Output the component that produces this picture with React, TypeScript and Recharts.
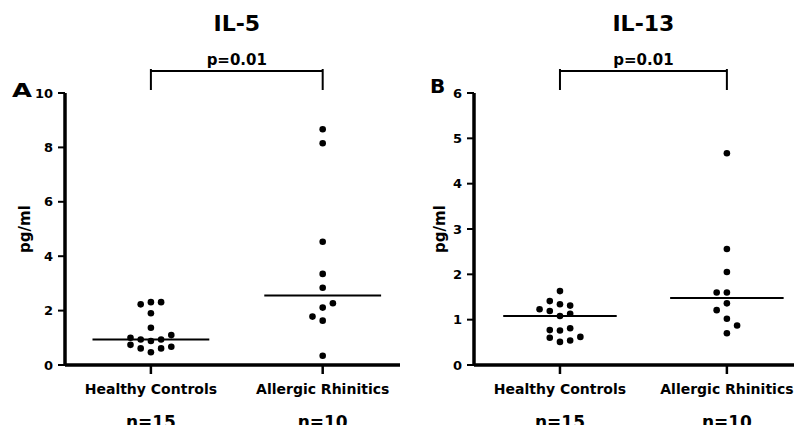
import { ReferenceLine, Scatter, ScatterChart, XAxis, YAxis } from "recharts";

const CATEGORIES = ["Healthy Controls", "Allergic Rhinitics"];
const TITLES = ["IL-5", "IL-13"];
const P_LABELS = ["p=0.01", "p=0.01"];
const PANEL_LETTERS = ["A", "B"];
const Y_LABEL = "pg/ml";

// pg/ml. Order inside each array drives the swarm
// layout (first come, first placed), so it is not sorted.
const IL5_HEALTHY = [2.31, 2.23, 2.31, 1.9, 1.37, 0.88, 0.94, 0.94, 1.0, 1.1, 0.47, 0.61, 0.61, 0.74, 0.67];
const IL5_ALLERGIC = [8.67, 8.15, 4.53, 3.35, 2.84, 1.63, 1.78, 2.11, 2.27, 0.34];
const IL13_HEALTHY = [1.63, 1.34, 1.08, 0.76, 0.51, 1.41, 1.13, 1.19, 0.81, 0.77, 0.54, 0.6, 1.23, 0.62, 1.31];
const IL13_ALLERGIC = [4.67, 2.56, 2.05, 1.6, 1.6, 1.36, 1.02, 0.87, 1.21, 0.7];

const IL5_TICKS = [0, 2, 4, 6, 8, 10];
const IL13_TICKS = [0, 1, 2, 3, 4, 5, 6];

const FONT = '"DejaVu Sans", "Liberation Sans", sans-serif';
const INK = "#000";
const CHART_H = 433;
const PLOT_TOP = 93;
const PLOT_BOTTOM = 365;
const PLOT_H = PLOT_BOTTOM - PLOT_TOP;
const DOT_R = 3.3;
const SLOT_PX = 10.2; // horizontal step between swarm columns
const MIN_GAP_PX = 6.95; // dots closer than this in one column collide
const MEDIAN_HALF = 0.34; // half-width of the median bar, x units

type Panel = {
  left: number;
  width: number;
  axisW: number;
  xMin: number;
  xMax: number;
  yMax: number;
  ticks: number[];
  groups: number[][];
  title: string;
  p: string;
  letter: string;
  letterX: number;
  letterY: number;
  letterW?: number;
  labelOffset: number;
};

const PANELS: Panel[] = [
  {
    left: 0,
    width: 400,
    axisW: 65,
    xMin: 0.5,
    xMax: 2.45,
    yMax: 10,
    ticks: IL5_TICKS,
    groups: [IL5_HEALTHY, IL5_ALLERGIC],
    title: TITLES[0],
    p: P_LABELS[0],
    letter: PANEL_LETTERS[0],
    letterX: 12,
    letterY: 97,
    letterW: 20,
    labelOffset: 25,
  },
  {
    left: 400,
    width: 402,
    axisW: 74,
    xMin: 0.485,
    xMax: 2.45,
    yMax: 6,
    ticks: IL13_TICKS,
    groups: [IL13_HEALTHY, IL13_ALLERGIC],
    title: TITLES[1],
    p: P_LABELS[1],
    letter: PANEL_LETTERS[1],
    letterX: 430,
    letterY: 93,
    labelOffset: 40,
  },
];

// Column index for every value: 0 in the middle, then -k/+k, picking the
// emptier column first (ties go left).
function swarmSlots(values: number[], pxPerUnit: number): number[] {
  const placed: { slot: number; py: number }[] = [];
  return values.map((v) => {
    const py = v * pxPerUnit;
    const free = (s: number) =>
      !placed.some((p) => p.slot === s && Math.abs(p.py - py) < MIN_GAP_PX);
    const n = (s: number) => placed.filter((p) => p.slot === s).length;
    let slot = 0;
    if (!free(0)) {
      for (let k = 1; k < 8; k++) {
        const sides = n(k) < n(-k) ? [k, -k] : [-k, k];
        const hit = sides.find(free);
        if (hit !== undefined) {
          slot = hit;
          break;
        }
      }
    }
    placed.push({ slot, py });
    return slot;
  });
}

function median(values: number[]): number {
  const s = [...values].sort((a, b) => a - b);
  const m = Math.floor(s.length / 2);
  return s.length % 2 ? s[m] : (s[m - 1] + s[m]) / 2;
}

function Dot(props: any) {
  return <circle cx={props.cx} cy={props.cy} r={DOT_R} fill={INK} />;
}

function CategoryTick(props: any) {
  const { x, y, payload, counts } = props;
  const idx = Math.round(payload.value) - 1;
  return (
    <g fontFamily={FONT} fontWeight={700} fill={INK}>
      <text x={x} y={y + 18} textAnchor="middle" fontSize={14}>
        {CATEGORIES[idx]}
      </text>
      <text x={x} y={y + 52} textAnchor="middle" fontSize={17}>
        {`n=${counts[idx]}`}
      </text>
    </g>
  );
}

function DotPanel({ panel }: { panel: Panel }) {
  const plotW = panel.width - panel.axisW;
  const unitPx = plotW / (panel.xMax - panel.xMin);
  const pxPerY = PLOT_H / panel.yMax;
  const counts = panel.groups.map((g) => g.length);

  const series = panel.groups.map((vals, gi) => {
    const slots = swarmSlots(vals, pxPerY);
    return vals.map((v, i) => ({ x: gi + 1 + (slots[i] * SLOT_PX) / unitPx, y: v }));
  });

  // significance bracket sits above the plot area
  const barY = panel.yMax + 22 / pxPerY;
  const nubY = panel.yMax + 24 / pxPerY;
  const legY = panel.yMax + 3 / pxPerY;
  const line = { stroke: INK, strokeWidth: 2 };

  return (
    <div style={{ position: "absolute", left: panel.left, top: 0 }}>
      <ScatterChart
        width={panel.width}
        height={CHART_H}
        margin={{ top: PLOT_TOP, right: 0, bottom: 0, left: 0 }}
      >
        <XAxis
          type="number"
          dataKey="x"
          domain={[panel.xMin, panel.xMax]}
          ticks={[1, 2]}
          allowDataOverflow
          height={CHART_H - PLOT_BOTTOM}
          tickSize={9}
          tickLine={{ stroke: INK, strokeWidth: 2.5 }}
          axisLine={{ stroke: INK, strokeWidth: 3.5 }}
          tick={(p: any) => <CategoryTick {...p} counts={counts} />}
        />
        <YAxis
          type="number"
          dataKey="y"
          domain={[0, panel.yMax]}
          ticks={panel.ticks}
          allowDataOverflow
          width={panel.axisW}
          tickSize={7}
          tickMargin={5}
          tickLine={{ stroke: INK, strokeWidth: 2 }}
          axisLine={{ stroke: INK, strokeWidth: 3.5 }}
          tick={{ fill: INK, fontSize: 13, fontWeight: 700, fontFamily: FONT }}
          label={{
            value: Y_LABEL,
            angle: -90,
            position: "insideLeft",
            offset: panel.labelOffset,
            fill: INK,
            fontSize: 15,
            fontWeight: 700,
            fontFamily: FONT,
            style: { textAnchor: "middle" },
          }}
        />
        {series.map((pts, gi) => (
          <Scatter key={gi} data={pts} shape={Dot} isAnimationActive={false} />
        ))}
        {panel.groups.map((vals, gi) => (
          <ReferenceLine
            key={`med-${gi}`}
            segment={[
              { x: gi + 1 - MEDIAN_HALF, y: median(vals) },
              { x: gi + 1 + MEDIAN_HALF, y: median(vals) },
            ]}
            ifOverflow="visible"
            {...line}
          />
        ))}
        <ReferenceLine
          segment={[
            { x: 1, y: barY },
            { x: 2, y: barY },
          ]}
          ifOverflow="visible"
          {...line}
          label={{
            value: panel.p,
            position: "top",
            offset: 6,
            fill: INK,
            fontSize: 15,
            fontWeight: 700,
            fontFamily: FONT,
          }}
        />
        {[1, 2].map((gx) => (
          <ReferenceLine
            key={`leg-${gx}`}
            segment={[
              { x: gx, y: nubY },
              { x: gx, y: legY },
            ]}
            ifOverflow="visible"
            {...line}
          />
        ))}
      </ScatterChart>
    </div>
  );
}

export default function App() {
  return (
    <div
      style={{
        position: "relative",
        width: 802,
        height: 433,
        margin: -8,
        background: "#fff",
        overflow: "hidden",
      }}
    >
      {PANELS.map((p) => (
        <DotPanel key={p.letter} panel={p} />
      ))}
      <svg
        width={802}
        height={433}
        style={{ position: "absolute", left: 0, top: 0, pointerEvents: "none" }}
        fontFamily={FONT}
        fontWeight={700}
        fill={INK}
      >
        {PANELS.map((p) => {
          const unitPx = (p.width - p.axisW) / (p.xMax - p.xMin);
          const cx = p.left + p.axisW + (1.5 - p.xMin) * unitPx;
          return (
            <g key={p.letter}>
              <text x={cx} y={31} textAnchor="middle" fontSize={22}>
                {p.title}
              </text>
              <text
                x={p.letterX}
                y={p.letterY}
                fontSize={20}
                textLength={p.letterW}
                lengthAdjust={p.letterW ? "spacingAndGlyphs" : undefined}
              >
                {p.letter}
              </text>
            </g>
          );
        })}
      </svg>
    </div>
  );
}
